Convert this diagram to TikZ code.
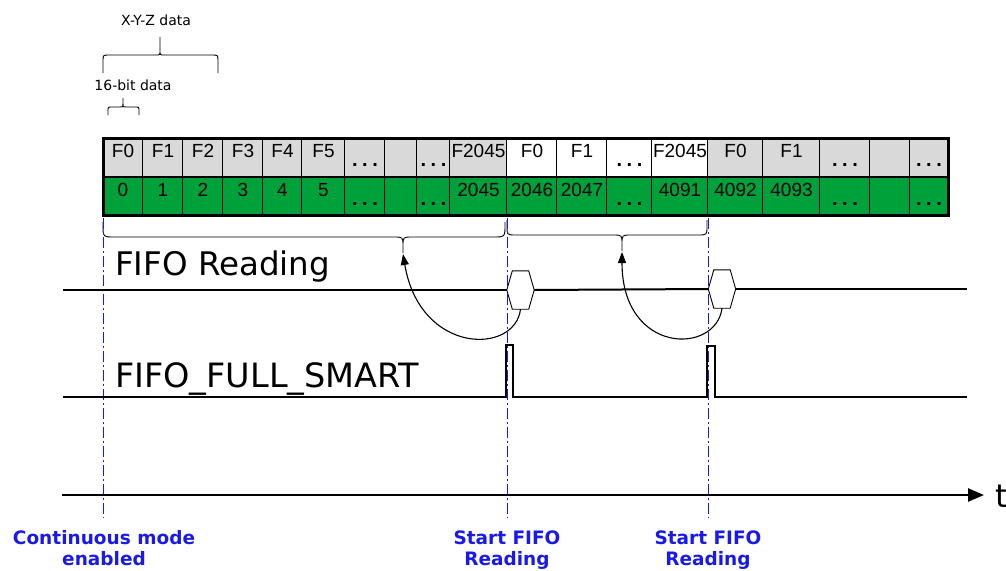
\documentclass[tikz,border=0pt]{standalone}
\usepackage{fontspec}
\setmainfont{DejaVu Sans}
\newfontfamily\arialf{Liberation Sans}
\usetikzlibrary{arrows.meta}
\definecolor{cellgray}{RGB}{217,217,217}
\definecolor{cellgreen}{RGB}{0,160,58}
\definecolor{markblue}{RGB}{25,25,235}
\newcommand\dts{\raisebox{-9.5pt}{\fontsize{20}{22}\selectfont\bfseries .\kern4.5pt.\kern4.5pt.}}
\newcommand\mybrace[9]{%
\draw[bracestyle] (#1,#4) -- (#1,{#5+#9*#7}) .. controls (#1,#5) .. ({#1+#7},#5) -- ({#3-#8},#5) .. controls (#3,#5) .. (#3,{#5-#9*#8}) -- (#3,#6) -- (#3,{#5-#9*#8}) .. controls (#3,#5) .. ({#3+#8},#5) -- ({#2-#7},#5) .. controls (#2,#5) .. (#2,{#5+#9*#7}) -- (#2,#4);}
\tikzset{
  sig/.style={line width=2pt, black},
  axisline/.style={line width=2.6pt, black, -{Triangle[length=16pt,width=13pt]}},
  cellline/.style={line width=1.5pt, black},
  ctext/.style={font=\arialf\fontsize{19}{22}\selectfont, inner sep=0pt, anchor=base},
  bracestyle/.style={line width=0.9pt, black},
  guide/.style={markblue, line width=1pt, dash pattern=on 11pt off 3pt on 2pt off 3pt},
  bluelabel/.style={markblue, font=\bfseries\fontsize{18.5}{22}\selectfont, inner sep=0pt, anchor=base},
  hexbox/.style={draw=none, minimum width=27pt, minimum height=38pt, inner sep=0pt},
  hexline/.style={line width=0.9pt, black, fill=white},
  readarrow/.style={line width=1.1pt, black, -{Triangle[length=11pt,width=8pt]}},
  smalltext/.style={font=\fontsize{14}{16}\selectfont, inner sep=0pt, anchor=base},
  bigtext/.style={inner sep=0pt, anchor=base west},
}
\begin{document}
\begin{tikzpicture}[x=1pt,y=-1pt]
\useasboundingbox (0,0) rectangle (1006,570);
% top annotations
\node[smalltext] (xyz) at (156,25) {X-Y-Z data};
\mybrace{103}{218}{160}{73}{55}{37}{6}{4}{1}
\node[smalltext] (bit16) at (133,90) {16-bit data};
\mybrace{108}{139}{123}{115}{107}{98}{4}{3}{1}
% table
\foreach \xa/\xb/\toptxt/\bottxt/\fc [count=\i] in {
  103/143/F0/0/cellgray, 143/183/F1/1/cellgray, 183/223/F2/2/cellgray,
  223/263/F3/3/cellgray, 263/302/F4/4/cellgray, 302/345/F5/5/cellgray,
  345/385/\dts/\dts/cellgray, 385/417/{}/{}/cellgray, 417/450/\dts/\dts/cellgray,
  450/507/F2045/2045/cellgray, 507/557/F0/2046/white, 557/607/F1/2047/white,
  607/652/\dts/\dts/white, 652/708/F2045/4091/white, 708/763/F0/4092/cellgray,
  763/820/F1/4093/cellgray, 820/870/\dts/\dts/cellgray, 870/910/{}/{}/cellgray,
  910/948/\dts/\dts/cellgray}{
  \fill[\fc] (\xa,138) rectangle (\xb,177);
  \fill[cellgreen] (\xa,177) rectangle (\xb,215);
  \node[ctext] (top\i) at ({(\xa+\xb)/2},157) {\toptxt};
  \node[ctext] (bot\i) at ({(\xa+\xb)/2},196) {\bottxt};
  \draw[cellline] (\xb,138) -- (\xb,215);
}
\draw[cellline] (103,177) -- (948,177);
\draw[line width=3pt] (103,138) rectangle (948,215);
% lower braces
\mybrace{103}{505}{403}{222}{237}{253}{12}{9}{-1}
\mybrace{507}{707}{622}{220}{235}{251}{9}{9}{-1}
\coordinate (tip1) at (403,254);
\coordinate (tip2) at (622,252);
% guides
\coordinate (g1a) at (103,218); \coordinate (g1b) at (103,518);
\coordinate (g2a) at (507,218); \coordinate (g2b) at (507,518);
\coordinate (g3a) at (708,218); \coordinate (g3b) at (708,518);
\draw[guide] (g1a) -- (g1b);
\draw[guide] (g2a) -- (g2b);
\draw[guide] (g3a) -- (g3b);
% FIFO Reading signal
\node[bigtext, font=\fontsize{32.5}{36}\selectfont] (fr) at (115,275) {FIFO Reading};
\node[hexbox] (h1) at (520.5,290) {};
\node[hexbox] (h2) at (722,289) {};
\coordinate (r0) at (63,290);
\coordinate (r3) at (967,289);
\draw[sig] (r0) -- (h1.west);
\draw[sig] (h1.east) -- (h2.west);
\draw[sig] (h2.east) -- (r3);
\draw[hexline] (h1.west) -- ([xshift=5.5pt]h1.north west) -- ([xshift=-5.5pt]h1.north east) -- (h1.east) -- ([xshift=-5.5pt]h1.south east) -- ([xshift=5.5pt]h1.south west) -- cycle;
\draw[hexline] (h2.west) -- ([xshift=5.5pt]h2.north west) -- ([xshift=-5.5pt]h2.north east) -- (h2.east) -- ([xshift=-5.5pt]h2.south east) -- ([xshift=5.5pt]h2.south west) -- cycle;
\draw[readarrow] (h1.south) .. controls (515,355) and (420,355) .. (tip1);
\draw[readarrow] (h2.south) .. controls (716,355) and (622,355) .. (tip2);
% FIFO_FULL_SMART signal
\node[bigtext, font=\fontsize{33.5}{36}\selectfont] (ffs) at (115,387) {FIFO\_FULL\_SMART};
\coordinate (s0) at (63,397);
\coordinate (s1) at (967,397);
\draw[sig] (s0) -- (506,397) -- (506,345) -- (513,345) -- (513,397) -- (707,397) -- (707,346) -- (715,346) -- (715,397) -- (s1);
% time axis
\coordinate (ax0) at (62,495);
\coordinate (ax1) at (984,495);
\draw[axisline] (ax0) -- (ax1);
\node[font=\fontsize{32}{36}\selectfont, inner sep=0pt, anchor=base west] (tlab) at (995,507) {t};
% labels
\node[bluelabel] (l1a) at (104,544) {Continuous mode};
\node[bluelabel] (l1b) at (104,565) {enabled};
\node[bluelabel] (l2a) at (507,544) {Start FIFO};
\node[bluelabel] (l2b) at (507,565) {Reading};
\node[bluelabel] (l3a) at (708,544) {Start FIFO};
\node[bluelabel] (l3b) at (708,565) {Reading};
\end{tikzpicture}
\end{document}
